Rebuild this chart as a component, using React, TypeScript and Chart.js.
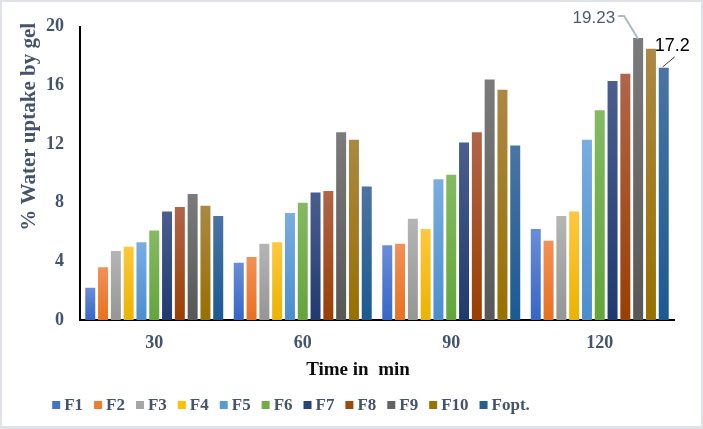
import React, { useEffect, useRef } from "react";
import { Chart, registerables } from "chart.js";

Chart.register(...registerables);

// ---- data ----
const categories = ["30", "60", "90", "120"];
const seriesNames = ["F1", "F2", "F3", "F4", "F5", "F6", "F7", "F8", "F9", "F10", "Fopt."];
const F1 = [2.2, 3.9, 5.1, 6.2];
const F2 = [3.6, 4.3, 5.2, 5.4];
const F3 = [4.7, 5.2, 6.9, 7.1];
const F4 = [5.0, 5.3, 6.2, 7.4];
const F5 = [5.3, 7.3, 9.6, 12.3];
const F6 = [6.1, 8.0, 9.9, 14.3];
const F7 = [7.4, 8.7, 12.1, 16.3];
const F8 = [7.7, 8.8, 12.8, 16.8];
const F9 = [8.6, 12.8, 16.4, 19.23];
const F10 = [7.8, 12.3, 15.7, 18.5];
const Fopt = [7.1, 9.1, 11.9, 17.2];
const seriesValues = [F1, F2, F3, F4, F5, F6, F7, F8, F9, F10, Fopt];
const yTicks = [0, 4, 8, 12, 16, 20];
const yAxisTitle = "% Water uptake by gel";
const xAxisTitle = "Time in  min";
const label19 = "19.23";
const label17 = "17.2";

// ---- styles ----
const baseColors = ["#4472C4", "#ED7D31", "#A5A5A5", "#FFC000", "#5B9BD5", "#70AD47", "#264478", "#9E480E", "#636363", "#997300", "#255E91"];
const topColors = ["#6B8DD8", "#F29157", "#B5B5B5", "#FFC83D", "#7AADE0", "#85BA63", "#4A5E8F", "#B0654A", "#7B7B7B", "#AB8844", "#4A74A3"];
const bottomColors = ["#3566C6", "#E9701F", "#959595", "#EBB300", "#4A8ECE", "#63A53A", "#1F3A6E", "#9A3F02", "#575757", "#986F00", "#1A5A92"];
const textColor = "#44546A";
const serif = "'Liberation Serif', 'Times New Roman', serif";
const sans = "'Liberation Sans', Arial, sans-serif";

const overlayPlugin = {
  id: "overlay",
  afterDraw(chart: any) {
    const ctx = chart.ctx as CanvasRenderingContext2D;
    const area = chart.chartArea;
    ctx.save();

    // y-axis title
    ctx.save();
    ctx.fillStyle = textColor;
    ctx.font = `bold 21px ${serif}`;
    ctx.textAlign = "center";
    ctx.textBaseline = "middle";
    ctx.translate(area.left - 50, area.top + 100);
    ctx.rotate(-Math.PI / 2);
    ctx.fillText(yAxisTitle, 0, 0);
    ctx.restore();

    // x-axis title
    ctx.fillStyle = "#0D0D0D";
    ctx.font = `bold 19px ${serif}`;
    ctx.textAlign = "center";
    ctx.textBaseline = "middle";
    ctx.fillText(xAxisTitle, (area.left + area.right) / 2 - 19, area.bottom + 50);

    // legend
    ctx.font = `bold 17px ${serif}`;
    ctx.textAlign = "left";
    const box = 8;
    const gapBox = 4;
    const gapItem = 11;
    const widths = seriesNames.map((n) => ctx.measureText(n).width);
    const total = widths.reduce((a, w) => a + box + gapBox + w, 0) + gapItem * (seriesNames.length - 1);
    let x = (area.left + area.right) / 2 - 86 - total / 2;
    const ly = area.bottom + 86;
    seriesNames.forEach((n, i) => {
      ctx.fillStyle = baseColors[i];
      ctx.fillRect(x, ly - box / 2 - 1, box, box);
      ctx.fillStyle = textColor;
      ctx.fillText(n, x + box + gapBox, ly);
      x += box + gapBox + widths[i] + gapItem;
    });

    // annotation 19.23
    const e9 = chart.getDatasetMeta(8).data[3];
    if (e9) {
      ctx.strokeStyle = "#ADB9CA";
      ctx.lineWidth = 2;
      ctx.beginPath();
      ctx.moveTo(e9.x, e9.y + 1);
      ctx.lineTo(e9.x - 14, e9.y - 22);
      ctx.lineTo(e9.x - 20, e9.y - 22);
      ctx.stroke();
      ctx.fillStyle = "#4D5B70";
      ctx.font = `17px ${sans}`;
      ctx.textAlign = "right";
      ctx.textBaseline = "middle";
      ctx.fillText(label19, e9.x - 23, e9.y - 20);
    }
    // annotation 17.2
    const eo = chart.getDatasetMeta(10).data[3];
    if (eo) {
      ctx.strokeStyle = "#404040";
      ctx.lineWidth = 1;
      ctx.beginPath();
      ctx.moveTo(eo.x - 1, eo.y - 1);
      ctx.lineTo(eo.x + 11, eo.y - 11);
      ctx.stroke();
      ctx.fillStyle = "#000000";
      ctx.font = `18px ${sans}`;
      ctx.textAlign = "left";
      ctx.textBaseline = "middle";
      ctx.fillText(label17, eo.x - 9, eo.y - 22);
    }
    ctx.restore();
  },
};

export default function App() {
  const canvasRef = useRef<HTMLCanvasElement | null>(null);

  useEffect(() => {
    document.body.style.margin = "0";
    const canvas = canvasRef.current;
    if (!canvas) return;
    const datasets = seriesNames.map((name, i) => ({
      label: name,
      data: seriesValues[i],
      categoryPercentage: 0.948,
      barPercentage: 0.78,
      backgroundColor: (c: any) => {
        const chart = c.chart;
        const area = chart.chartArea;
        if (!area || c.type !== "data") return baseColors[i];
        const ys = chart.scales.y;
        const top = ys.getPixelForValue(c.raw as number);
        const bot = ys.getPixelForValue(0);
        if (!isFinite(top) || !isFinite(bot) || top === bot) return baseColors[i];
        const g = chart.ctx.createLinearGradient(0, top, 0, bot);
        g.addColorStop(0, topColors[i]);
        g.addColorStop(1, bottomColors[i]);
        return g;
      },
      borderWidth: 0,
    }));

    const chart = new Chart(canvas, {
      type: "bar",
      data: { labels: categories, datasets },
      options: {
        responsive: false,
        animation: false,
        layout: { padding: { top: 26, right: 29, bottom: 79, left: 0 } },
        plugins: { legend: { display: false }, tooltip: { enabled: false } },
        scales: {
          x: {
            grid: { display: false, drawTicks: false },
            border: { display: true, color: "#000000", width: 2 },
            ticks: {
              color: textColor,
              font: { family: serif, size: 18, weight: "bold" },
              padding: 13,
            },
            afterFit: (s: any) => {
              s.height = 30;
            },
          },
          y: {
            min: 0,
            max: 20,
            grid: { display: false, drawTicks: false },
            border: { display: true, color: "#000000", width: 2 },
            ticks: {
              color: textColor,
              font: { family: serif, size: 18, weight: "bold" },
              padding: 16,
            },
            afterBuildTicks: (s: any) => {
              s.ticks = yTicks.map((v) => ({ value: v }));
            },
            afterFit: (s: any) => {
              s.width = 80;
            },
          },
        },
      } as any,
      plugins: [overlayPlugin],
    });
    return () => chart.destroy();
  }, []);

  return (
    <div
      style={{
        position: "fixed",
        left: 0,
        top: 0,
        width: 703,
        height: 429,
        boxSizing: "border-box",
        borderTop: "2px solid #DFE3E8",
        borderLeft: "2px solid #DFE3E8",
        borderRight: "2px solid #DFE3E8",
        borderBottom: "3px solid #DFE3E8",
        background: "#FFFFFF",
      }}
    >
      <canvas
        ref={canvasRef}
        width={703}
        height={429}
        style={{ position: "absolute", left: -2, top: -2, width: 703, height: 429 }}
      />
    </div>
  );
}
